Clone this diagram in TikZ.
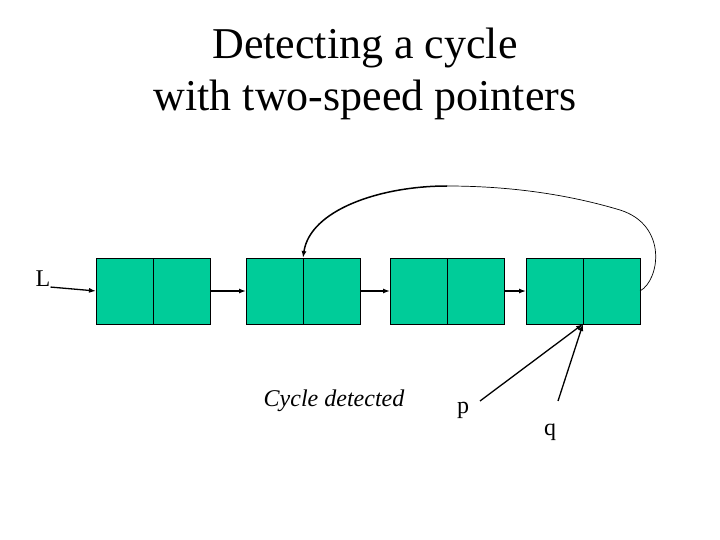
\documentclass[tikz,border=0pt]{standalone}
\usepackage{fontspec}
\setmainfont{Liberation Serif}
\usetikzlibrary{positioning,arrows.meta}
\definecolor{cellgreen}{RGB}{0,204,153}
\begin{document}
\begin{tikzpicture}[x=1pt, y=-1pt,
    cell/.style={draw, fill=cellgreen, minimum width=57pt, minimum height=66pt, inner sep=0pt, outer sep=0pt},
    ptr/.style={-{Latex[length=7pt,width=5pt]}, line width=1.3pt},
    lbl/.style={font=\fontsize{24}{28}\selectfont, inner sep=0pt}]
    \useasboundingbox (0,0) rectangle (720,540);

    % 标题
    \node[align=center, font=\fontsize{44}{52}\selectfont] (title) at (365,74)
        {Detecting a cycle\\with two-speed pointers};

    % 链表结点 (每个结点两格)
    \node[cell] (n1a) at (124.5,291) {};
    \node[cell, right=0pt of n1a] (n1b) {};
    \node[cell] (n2a) at (274.5,291) {};
    \node[cell, right=0pt of n2a] (n2b) {};
    \node[cell] (n3a) at (418.5,291) {};
    \node[cell, right=0pt of n3a] (n3b) {};
    \node[cell] (n4a) at (554.5,291) {};
    \node[cell, right=0pt of n4a] (n4b) {};

    % 头指针 L
    \node[lbl] (L) at (43,279) {L};
    \draw[ptr] (L.south east) -- (n1a.west);

    % 结点之间的链接
    \draw[ptr] (n1b.east) -- (n2a.west);
    \draw[ptr] (n2b.east) -- (n3a.west);
    \draw[ptr] (n3b.east) -- (n4a.west);

    % 回环: 最后一个结点指回第二个结点
    \coordinate (top) at (447,186);
    \draw[line width=0.7pt] (n4b.east) .. controls (660,280) and (668,225) .. (620,210)
        .. controls (560,192) and (500,186) .. (top);
    \draw[ptr, line width=1.5pt] (top) .. controls (380,186) and (310,210) .. (n2a.north east);

    % 文字与指针 p, q
    \node[lbl, font=\fontsize{24}{28}\selectfont\itshape] (msg) at (334,401) {Cycle detected};
    \node[lbl] (p) at (463,410) {p};
    \node[lbl] (q) at (550,432) {q};
    \coordinate (pstart) at (480,401);
    \coordinate (qstart) at (558,401);
    \draw[ptr] (pstart) -- (n4a.south east);
    \draw[ptr] (qstart) -- (n4a.south east);
\end{tikzpicture}
\end{document}
